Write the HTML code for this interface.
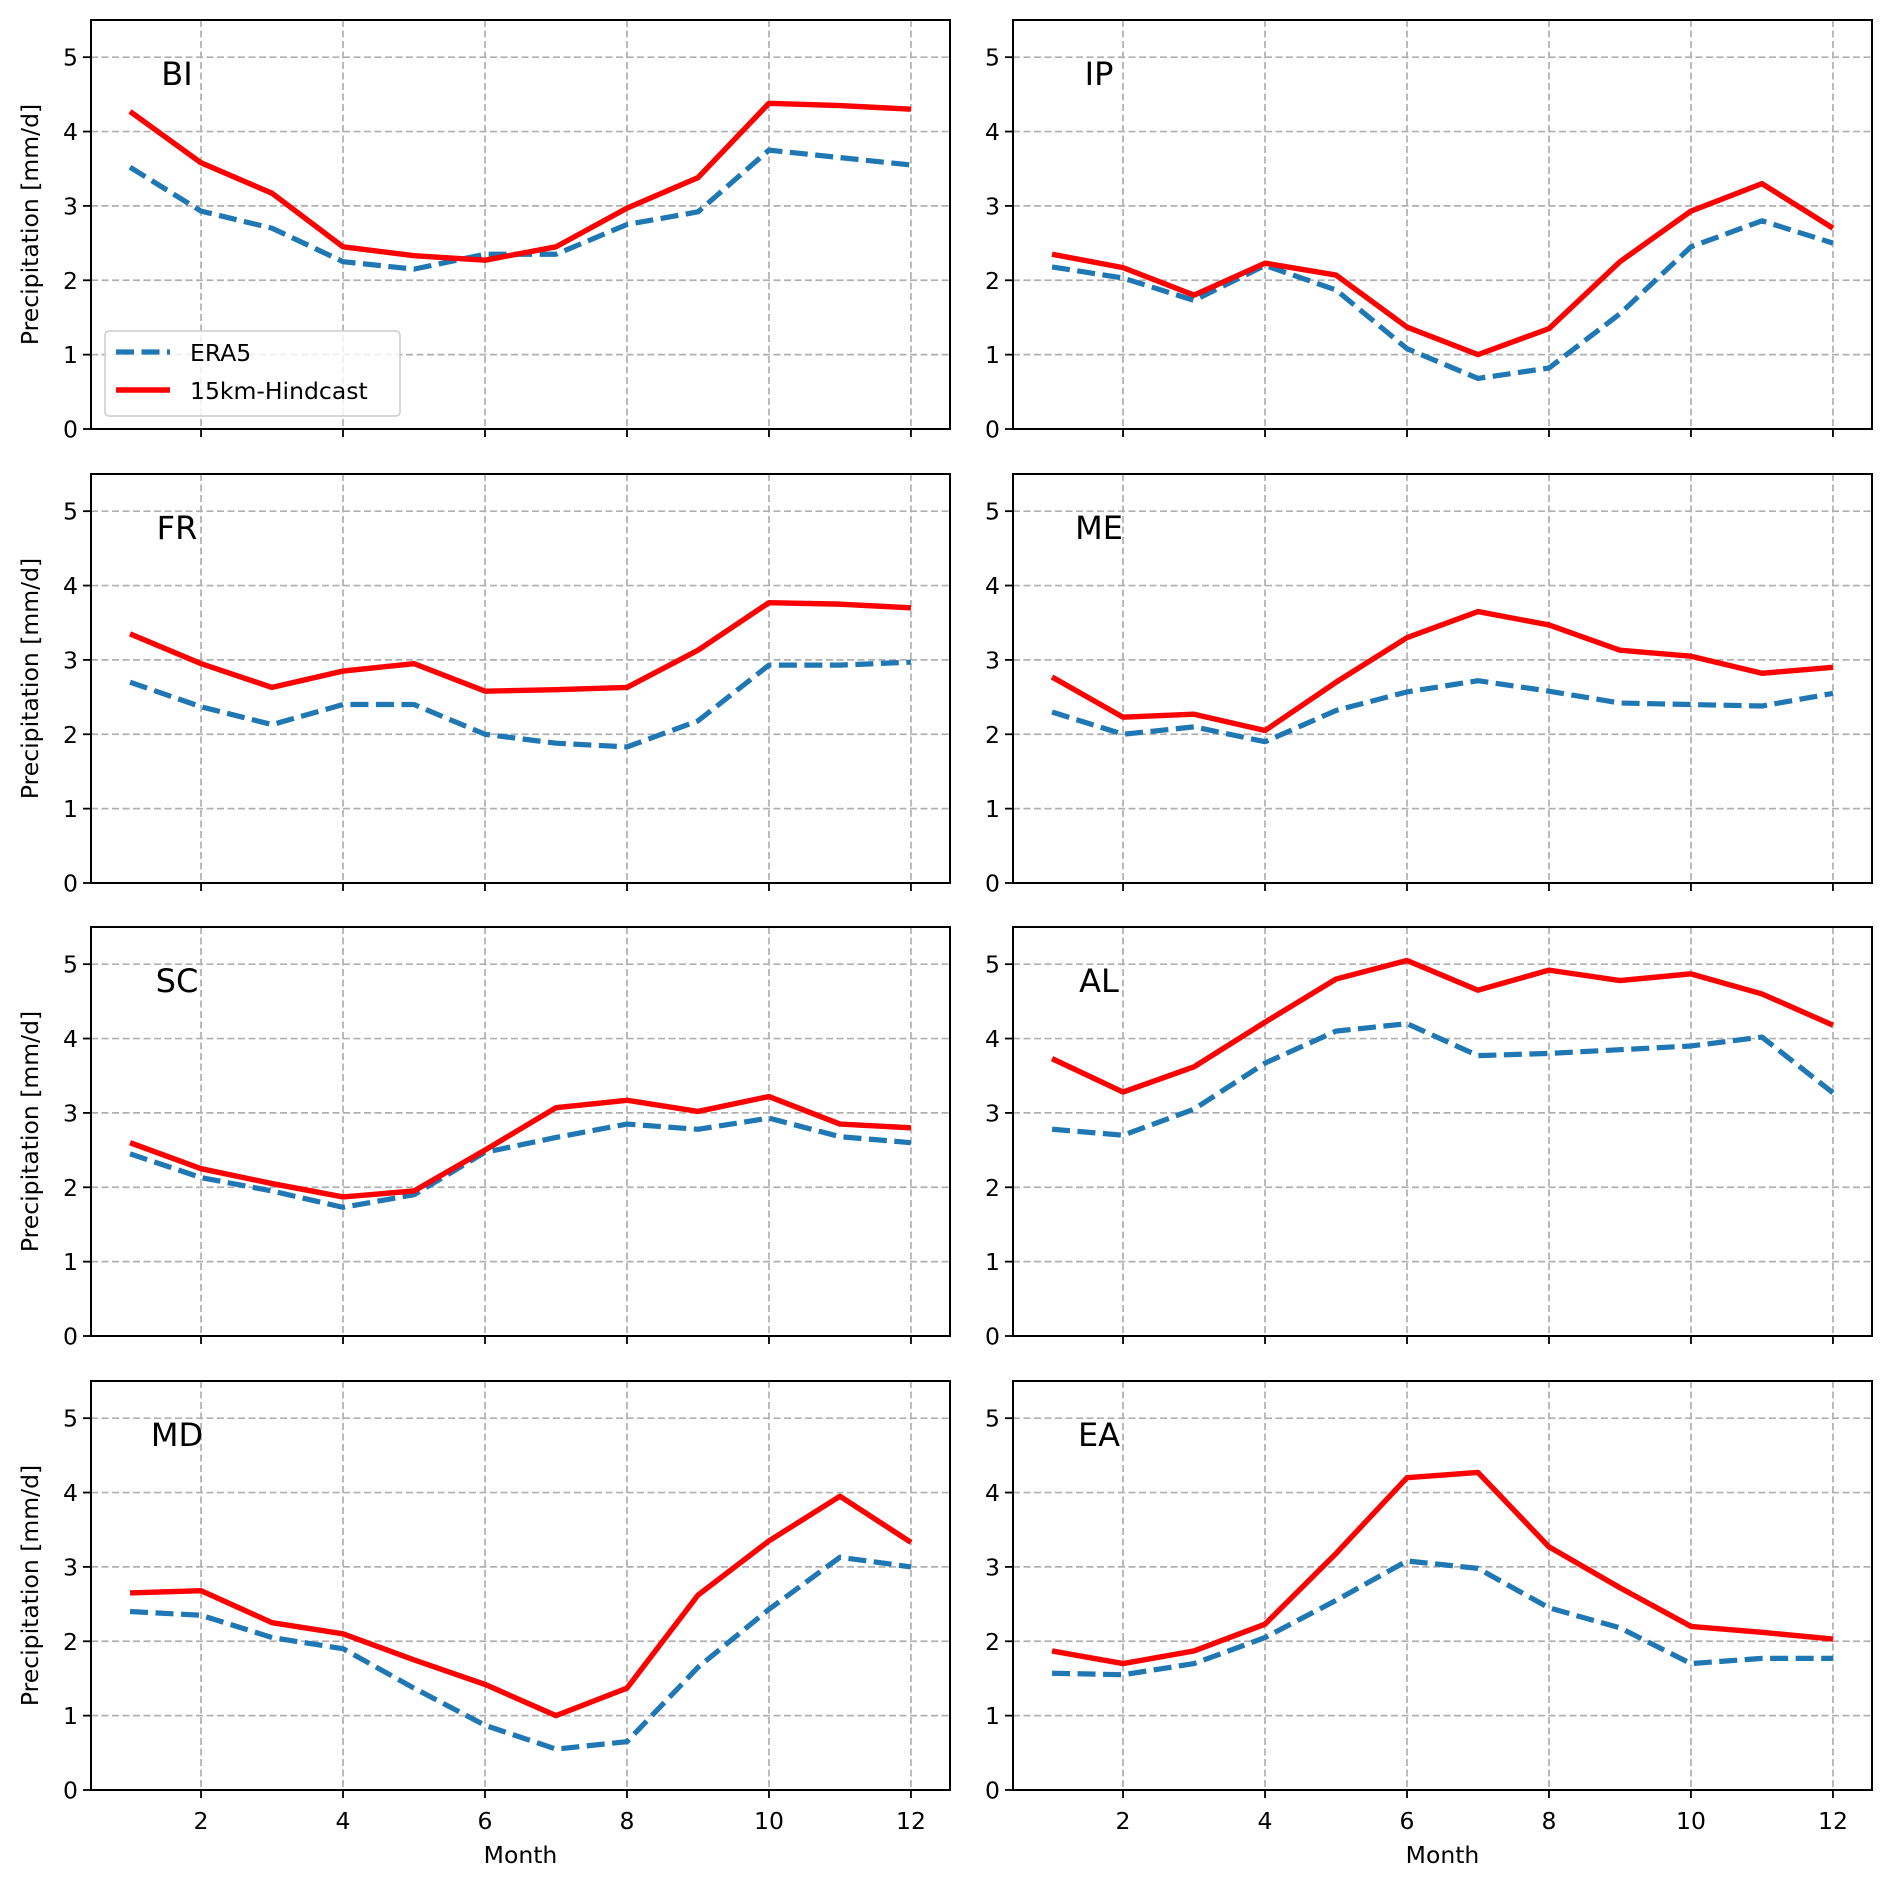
<!DOCTYPE html>
<html><head><meta charset="utf-8"><style>
html,body{margin:0;padding:0;background:#fff}
svg{display:block;font-family:"DejaVu Sans","Liberation Sans",sans-serif}
</style></head><body>
<svg id="fig" width="1892" height="1885" viewBox="0 0 1892 1885" xmlns="http://www.w3.org/2000/svg"></svg>
<script>
const months = [1,2,3,4,5,6,7,8,9,10,11,12];
const regions = ["BI","IP","FR","ME","SC","AL","MD","EA"];
const yTicks = [0,1,2,3,4,5];
const xTicks = [2,4,6,8,10,12];
const hindBI = [4.27,3.58,3.17,2.45,2.33,2.27,2.45,2.97,3.38,4.38,4.35,4.30];
const era5BI = [3.52,2.93,2.70,2.25,2.15,2.35,2.35,2.75,2.92,3.75,3.65,3.55];
const hindIP = [2.35,2.17,1.80,2.23,2.07,1.37,1.00,1.35,2.25,2.93,3.30,2.70];
const era5IP = [2.18,2.03,1.73,2.20,1.87,1.08,0.68,0.82,1.55,2.45,2.80,2.50];
const hindFR = [3.35,2.95,2.63,2.85,2.95,2.58,2.60,2.63,3.13,3.77,3.75,3.70];
const era5FR = [2.70,2.37,2.13,2.40,2.40,2.00,1.88,1.83,2.18,2.93,2.93,2.97];
const hindME = [2.77,2.23,2.27,2.05,2.70,3.30,3.65,3.47,3.13,3.05,2.82,2.90];
const era5ME = [2.30,2.00,2.10,1.90,2.32,2.57,2.72,2.58,2.42,2.40,2.38,2.55];
const hindSC = [2.60,2.25,2.05,1.87,1.95,2.50,3.07,3.17,3.02,3.22,2.85,2.80];
const era5SC = [2.45,2.13,1.95,1.73,1.90,2.47,2.67,2.85,2.78,2.93,2.68,2.60];
const hindAL = [3.73,3.28,3.62,4.22,4.80,5.05,4.65,4.92,4.78,4.87,4.60,4.18];
const era5AL = [2.78,2.70,3.05,3.67,4.10,4.20,3.77,3.80,3.85,3.90,4.02,3.27];
const hindMD = [2.65,2.68,2.25,2.10,1.75,1.42,1.00,1.37,2.62,3.35,3.95,3.33];
const era5MD = [2.40,2.35,2.05,1.90,1.37,0.87,0.55,0.65,1.65,2.43,3.13,3.00];
const hindEA = [1.87,1.70,1.87,2.23,3.18,4.20,4.27,3.27,2.72,2.20,2.12,2.03];
const era5EA = [1.57,1.55,1.70,2.05,2.55,3.08,2.98,2.45,2.18,1.70,1.77,1.77];
const hindAll = [hindBI,hindIP,hindFR,hindME,hindSC,hindAL,hindMD,hindEA];
const era5All = [era5BI,era5IP,era5FR,era5ME,era5SC,era5AL,era5MD,era5EA];

const NS="http://www.w3.org/2000/svg";
const svg=document.getElementById('fig');
function mk(tag,attrs,parent){const e=document.createElementNS(NS,tag);for(const k in attrs)e.setAttribute(k,attrs[k]);(parent||svg).appendChild(e);return e;}
const colX=[91,1013], W=859, rowY=[20,474,927,1381], H=409;
const X0=0.45,X1=12.55,Y0=0,Y1=5.5;

regions.forEach((reg,i)=>{
  const c=i%2, r=Math.floor(i/2);
  const L=colX[c], T=rowY[r];
  const sx=v=>L+(v-X0)/(X1-X0)*W;
  const sy=v=>T+H-(v-Y0)/(Y1-Y0)*H;
  const g=mk('g',{});
  
  
  xTicks.forEach(t=>{
    const l=mk('line',{x1:sx(t),x2:sx(t),y1:T,y2:T+H,stroke:'#b0b0b0','stroke-width':1.7,'stroke-dasharray':'7,3.5'},g);
    
    
    const tk=mk('line',{x1:sx(t),x2:sx(t),y1:T+H,y2:T+H+8,stroke:'#000','stroke-width':1.8},g);
    
    
    if(r===3){
      const tx=mk('text',{x:sx(t),y:T+H+39,'font-size':23.5,'text-anchor':'middle',fill:'#000'},g);
      tx.textContent=t;
      
      
    }
  });
  yTicks.forEach(t=>{
    const l=mk('line',{x1:L,x2:L+W,y1:sy(t),y2:sy(t),stroke:'#b0b0b0','stroke-width':1.7,'stroke-dasharray':'7,3.5'},g);
    
    
    const tk=mk('line',{x1:L-8,x2:L,y1:sy(t),y2:sy(t),stroke:'#000','stroke-width':1.8},g);
    
    
    const tx=mk('text',{x:L-13,y:sy(t)+8.5,'font-size':23.5,'text-anchor':'end',fill:'#000'},g);
    tx.textContent=t;
    
    
  });
  const era=era5All[i], hind=hindAll[i];
  const pe=mk('polyline',{points:months.map((m,k)=>sx(m)+','+sy(era[k])).join(' '),fill:'none',stroke:'#1f77b4','stroke-width':5.2,'stroke-dasharray':'18,7.5','stroke-linejoin':'round'},g);
  
  
  const ph=mk('polyline',{points:months.map((m,k)=>sx(m)+','+sy(hind[k])).join(' '),fill:'none',stroke:'#ff0000','stroke-width':5.4,'stroke-linejoin':'round'},g);
  
  
  const fr=mk('rect',{x:L,y:T,width:W,height:H,fill:'none',stroke:'#000','stroke-width':2},g);
  
  
  const lb=mk('text',{x:L+86,y:T+65,'font-size':32,'text-anchor':'middle',fill:'#000'},g);
  lb.textContent=reg;
  
  
  if(c===0){
    const yl=mk('text',{x:0,y:0,'font-size':23.5,'text-anchor':'middle',fill:'#000',transform:`translate(38,${T+H/2}) rotate(-90)`},g);
    yl.textContent='Precipitation [mm/d]';
    
    
  }
  if(r===3){
    const xl=mk('text',{x:L+W/2,y:1863,'font-size':23.5,'text-anchor':'middle',fill:'#000'},g);
    xl.textContent='Month';
    
    
  }
});
// legend
const lg=mk('g',{});


mk('rect',{x:105,y:331,width:295,height:85,rx:4,fill:'#fff','fill-opacity':0.8,stroke:'#cccccc','stroke-width':1.5},lg);
mk('line',{x1:116,x2:170,y1:352,y2:352,stroke:'#1f77b4','stroke-width':5.2,'stroke-dasharray':'18,7.5'},lg);
mk('line',{x1:116,x2:170,y1:390,y2:390,stroke:'#ff0000','stroke-width':5.4},lg);
const t1=mk('text',{x:190,y:361,'font-size':23.5,fill:'#000'},lg);t1.textContent='ERA5';


const t2=mk('text',{x:190,y:399,'font-size':23.5,fill:'#000'},lg);t2.textContent='15km-Hindcast';


</script>
</body></html>
